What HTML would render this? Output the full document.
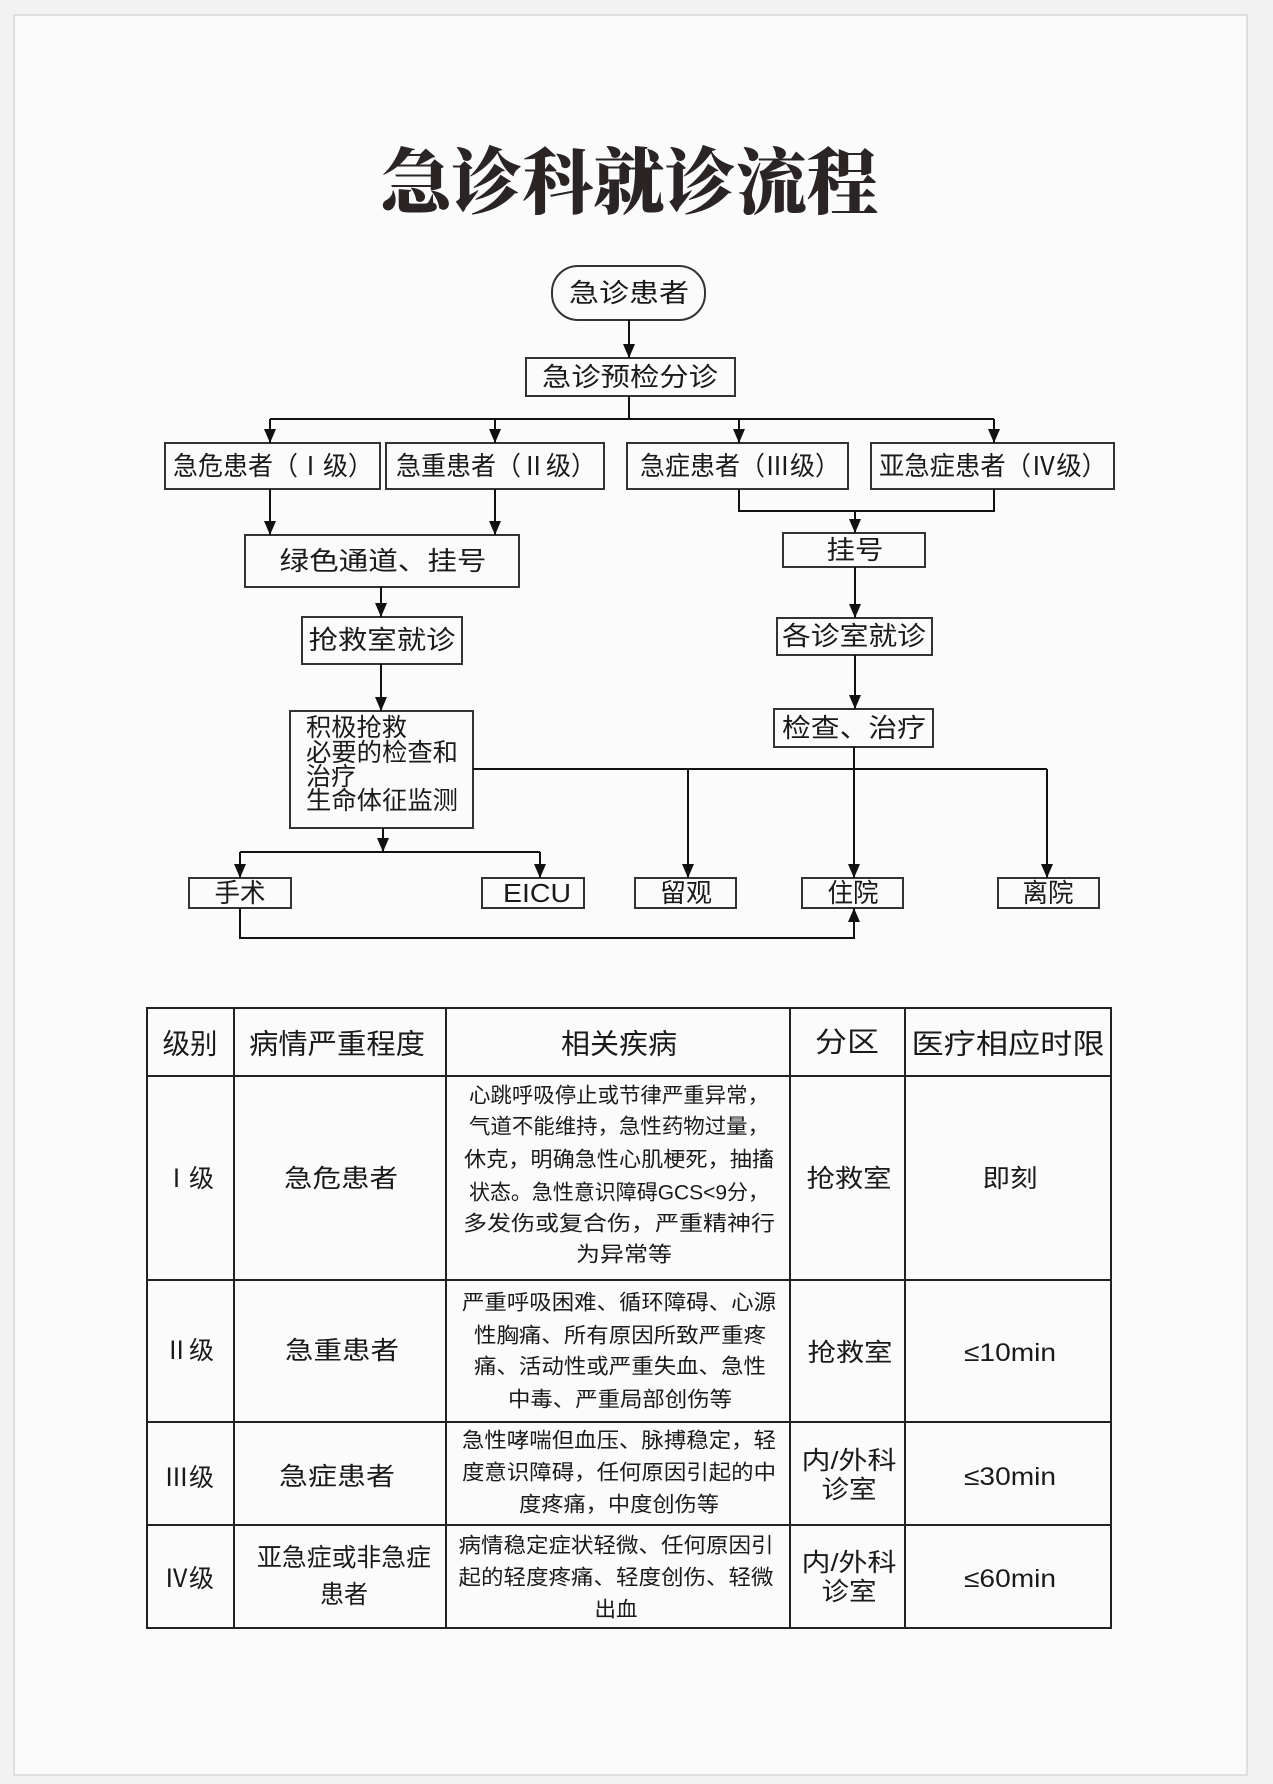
<!DOCTYPE html>
<html><head><meta charset="utf-8"><style>
html,body{margin:0;padding:0;background:#f2f2f2;}
svg{display:block;}
text{font-family:"Liberation Sans","Noto Sans CJK SC",sans-serif;fill:#1a1a1a;}
.t{font-family:"Noto Serif CJK SC","Liberation Serif",serif;font-weight:900;fill:#2a2425;}
</style></head><body>
<svg width="1273" height="1784" viewBox="0 0 1273 1784" xmlns="http://www.w3.org/2000/svg">
<defs>
<marker id="a" markerWidth="14" markerHeight="12" refX="14" refY="6" orient="auto" markerUnits="userSpaceOnUse" viewBox="0 0 14 12">
<path d="M0,0 L14,6 L0,12 Z" fill="#111"/></marker>
</defs>
<rect x="0" y="0" width="1273" height="1784" fill="#f2f2f2"/>
<rect x="14" y="15" width="1233" height="1760" fill="#fbfbfb" stroke="#d8d8d8" stroke-width="1.5"/>
<text class="t" x="629" y="208" font-size="72" text-anchor="middle" textLength="498" lengthAdjust="spacingAndGlyphs">急诊科就诊流程</text>

<g fill="none" stroke="#333" stroke-width="2">
<rect x="552" y="266" width="153" height="54" rx="26"/>
<rect x="526" y="358" width="209" height="38"/>
<rect x="165" y="443" width="215" height="46"/>
<rect x="386" y="443" width="218" height="46"/>
<rect x="627" y="443" width="221" height="46"/>
<rect x="871" y="443" width="243" height="46"/>
<rect x="245" y="535" width="274" height="52"/>
<rect x="783" y="533" width="142" height="34"/>
<rect x="302" y="617" width="160" height="47"/>
<rect x="777" y="618" width="155" height="37"/>
<rect x="290" y="711" width="183" height="117"/>
<rect x="774" y="709" width="159" height="38"/>
<rect x="189" y="878" width="102" height="30"/>
<rect x="482" y="878" width="102" height="30"/>
<rect x="635" y="878" width="101" height="30"/>
<rect x="802" y="878" width="101" height="30"/>
<rect x="998" y="878" width="101" height="30"/>
</g>
<g fill="none" stroke="#111" stroke-width="2">
<line x1="629" y1="320" x2="629" y2="358" marker-end="url(#a)"/>
<line x1="629" y1="396" x2="629" y2="419"/>
<line x1="270" y1="419" x2="994" y2="419"/>
<line x1="270" y1="419" x2="270" y2="443" marker-end="url(#a)"/>
<line x1="495" y1="419" x2="495" y2="443" marker-end="url(#a)"/>
<line x1="739" y1="419" x2="739" y2="443" marker-end="url(#a)"/>
<line x1="994" y1="419" x2="994" y2="443" marker-end="url(#a)"/>
<line x1="270" y1="489" x2="270" y2="535" marker-end="url(#a)"/>
<line x1="495" y1="489" x2="495" y2="535" marker-end="url(#a)"/>
<polyline points="739,489 739,511 994,511 994,489"/>
<line x1="855" y1="511" x2="855" y2="533" marker-end="url(#a)"/>
<line x1="381" y1="587" x2="381" y2="617" marker-end="url(#a)"/>
<line x1="855" y1="567" x2="855" y2="618" marker-end="url(#a)"/>
<line x1="381" y1="664" x2="381" y2="711" marker-end="url(#a)"/>
<line x1="855" y1="655" x2="855" y2="709" marker-end="url(#a)"/>
<line x1="473" y1="769" x2="1047" y2="769"/>
<line x1="688" y1="769" x2="688" y2="878" marker-end="url(#a)"/>
<line x1="854" y1="747" x2="854" y2="878" marker-end="url(#a)"/>
<line x1="1047" y1="769" x2="1047" y2="878" marker-end="url(#a)"/>
<line x1="383" y1="828" x2="383" y2="852" marker-end="url(#a)"/>
<line x1="240" y1="852" x2="540" y2="852"/>
<line x1="240" y1="852" x2="240" y2="878" marker-end="url(#a)"/>
<line x1="540" y1="852" x2="540" y2="878" marker-end="url(#a)"/>
<polyline points="240,908 240,938 854,938 854,908" marker-end="url(#a)"/>
</g>
<g font-size="26" dominant-baseline="central" text-anchor="middle">
<text x="629" y="293" textLength="120" lengthAdjust="spacingAndGlyphs">急诊患者</text>
<text x="630" y="377" textLength="176" lengthAdjust="spacingAndGlyphs">急诊预检分诊</text>
<text x="273" y="466" textLength="200" lengthAdjust="spacingAndGlyphs">急危患者（Ⅰ级）</text>
<text x="496" y="466" textLength="200" lengthAdjust="spacingAndGlyphs">急重患者（Ⅱ级）</text>
<text x="740" y="466" textLength="200" lengthAdjust="spacingAndGlyphs">急症患者（Ⅲ级）</text>
<text x="993" y="466" textLength="228" lengthAdjust="spacingAndGlyphs">亚急症患者（Ⅳ级）</text>
<text x="383" y="561" textLength="207" lengthAdjust="spacingAndGlyphs">绿色通道、挂号</text>
<text x="855" y="550" textLength="57" lengthAdjust="spacingAndGlyphs">挂号</text>
<text x="382" y="640" textLength="147" lengthAdjust="spacingAndGlyphs">抢救室就诊</text>
<text x="854" y="636" textLength="144" lengthAdjust="spacingAndGlyphs">各诊室就诊</text>
<text x="854" y="728" textLength="144" lengthAdjust="spacingAndGlyphs">检查、治疗</text>
<text x="240" y="893" textLength="51" lengthAdjust="spacingAndGlyphs">手术</text>
<text x="537" y="893" textLength="68" lengthAdjust="spacingAndGlyphs" font-family="Liberation Serif">EICU</text>
<text x="686" y="893" textLength="52" lengthAdjust="spacingAndGlyphs">留观</text>
<text x="853" y="893" textLength="51" lengthAdjust="spacingAndGlyphs">住院</text>
<text x="1048" y="893" textLength="51" lengthAdjust="spacingAndGlyphs">离院</text>
</g>
<g font-size="25" dominant-baseline="central">
<text x="306" y="728" textLength="101" lengthAdjust="spacingAndGlyphs">积极抢救</text>
<text x="306" y="753" textLength="152" lengthAdjust="spacingAndGlyphs">必要的检查和</text>
<text x="306" y="777" textLength="50" lengthAdjust="spacingAndGlyphs">治疗</text>
<text x="306" y="801" textLength="152" lengthAdjust="spacingAndGlyphs">生命体征监测</text>
</g>

<g stroke="#222" stroke-width="2" fill="none">
<rect x="147" y="1008" width="964" height="620"/>
<line x1="147" y1="1076" x2="1111" y2="1076"/>
<line x1="147" y1="1280" x2="1111" y2="1280"/>
<line x1="147" y1="1422" x2="1111" y2="1422"/>
<line x1="147" y1="1525" x2="1111" y2="1525"/>
<line x1="234" y1="1008" x2="234" y2="1628"/>
<line x1="446" y1="1008" x2="446" y2="1628"/>
<line x1="790" y1="1008" x2="790" y2="1628"/>
<line x1="905" y1="1008" x2="905" y2="1628"/>
</g>
<g font-size="28" dominant-baseline="central" text-anchor="middle">
<text x="190" y="1044" textLength="55" lengthAdjust="spacingAndGlyphs">级别</text>
<text x="337" y="1044" textLength="176" lengthAdjust="spacingAndGlyphs">病情严重程度</text>
<text x="619" y="1044" textLength="116" lengthAdjust="spacingAndGlyphs">相关疾病</text>
<text x="847" y="1042" textLength="64" lengthAdjust="spacingAndGlyphs">分区</text>
<text x="1008" y="1044" textLength="193" lengthAdjust="spacingAndGlyphs">医疗相应时限</text>
</g>
<g font-size="25" dominant-baseline="central" text-anchor="middle">
<text x="189" y="1179" font-family="Liberation Serif">Ⅰ级</text>
<text x="341" y="1179" textLength="114" lengthAdjust="spacingAndGlyphs">急危患者</text>
<text x="849" y="1179" textLength="85" lengthAdjust="spacingAndGlyphs">抢救室</text>
<text x="1010" y="1179" textLength="55" lengthAdjust="spacingAndGlyphs">即刻</text>
<text x="189" y="1351">Ⅱ级</text>
<text x="342" y="1351" textLength="114" lengthAdjust="spacingAndGlyphs">急重患者</text>
<text x="850" y="1353" textLength="85" lengthAdjust="spacingAndGlyphs">抢救室</text>
<text x="1010" y="1353" textLength="92" lengthAdjust="spacingAndGlyphs">≤10min</text>
<text x="189" y="1478">Ⅲ级</text>
<text x="337" y="1477" textLength="116" lengthAdjust="spacingAndGlyphs">急症患者</text>
<text x="849" y="1461" textLength="95" lengthAdjust="spacingAndGlyphs">内/外科</text>
<text x="849" y="1490" textLength="55" lengthAdjust="spacingAndGlyphs">诊室</text>
<text x="1010" y="1477" textLength="92" lengthAdjust="spacingAndGlyphs">≤30min</text>
<text x="189" y="1579">Ⅳ级</text>
<text x="344" y="1558" textLength="174" lengthAdjust="spacingAndGlyphs">亚急症或非急症</text>
<text x="344" y="1595" textLength="48" lengthAdjust="spacingAndGlyphs">患者</text>
<text x="849" y="1563" textLength="95" lengthAdjust="spacingAndGlyphs">内/外科</text>
<text x="849" y="1592" textLength="55" lengthAdjust="spacingAndGlyphs">诊室</text>
<text x="1010" y="1579" textLength="92" lengthAdjust="spacingAndGlyphs">≤60min</text>
</g>
<g font-size="21" dominant-baseline="central" text-anchor="middle">
<text x="619" y="1096" textLength="300" lengthAdjust="spacingAndGlyphs">心跳呼吸停止或节律严重异常，</text>
<text x="619" y="1127" textLength="300" lengthAdjust="spacingAndGlyphs">气道不能维持，急性药物过量，</text>
<text x="619" y="1160" textLength="310" lengthAdjust="spacingAndGlyphs">休克，明确急性心肌梗死，抽搐</text>
<text x="619" y="1193" textLength="300" lengthAdjust="spacingAndGlyphs">状态。急性意识障碍GCS&lt;9分，</text>
<text x="619" y="1224" textLength="312" lengthAdjust="spacingAndGlyphs">多发伤或复合伤，严重精神行</text>
<text x="624" y="1255" textLength="96" lengthAdjust="spacingAndGlyphs">为异常等</text>
<text x="619" y="1303" textLength="314" lengthAdjust="spacingAndGlyphs">严重呼吸困难、循环障碍、心源</text>
<text x="620" y="1336" textLength="292" lengthAdjust="spacingAndGlyphs">性胸痛、所有原因所致严重疼</text>
<text x="620" y="1367" textLength="292" lengthAdjust="spacingAndGlyphs">痛、活动性或严重失血、急性</text>
<text x="620" y="1400" textLength="224" lengthAdjust="spacingAndGlyphs">中毒、严重局部创伤等</text>
<text x="619" y="1441" textLength="314" lengthAdjust="spacingAndGlyphs">急性哮喘但血压、脉搏稳定，轻</text>
<text x="619" y="1473" textLength="314" lengthAdjust="spacingAndGlyphs">度意识障碍，任何原因引起的中</text>
<text x="619" y="1505" textLength="200" lengthAdjust="spacingAndGlyphs">度疼痛，中度创伤等</text>
<text x="616" y="1546" textLength="315" lengthAdjust="spacingAndGlyphs">病情稳定症状轻微、任何原因引</text>
<text x="616" y="1578" textLength="315" lengthAdjust="spacingAndGlyphs">起的轻度疼痛、轻度创伤、轻微</text>
<text x="616" y="1610" textLength="43" lengthAdjust="spacingAndGlyphs">出血</text>
</g>
</svg>
</body></html>
